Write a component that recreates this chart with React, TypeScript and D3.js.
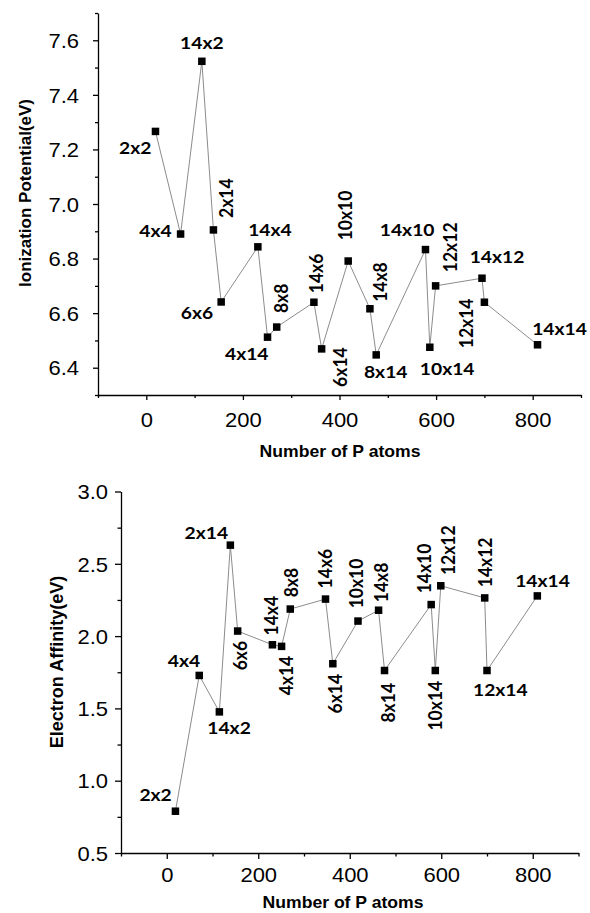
import React, { useEffect, useRef } from 'react';
import * as d3 from 'd3';

// supercell sizes, in the order the line connects them
const cells = ['2x2', '4x4', '14x2', '2x14', '6x6', '14x4', '4x14', '8x8', '14x6', '6x14',
  '10x10', '14x8', '8x14', '14x10', '10x14', '12x12', '14x12', '12x14', '14x14'];
const atoms = [19, 71, 115, 139, 155, 231, 251, 270, 347, 363, 418, 463, 476, 578, 587, 599, 695, 700, 810];
const ionization = [7.266, 6.89, 7.523, 6.905, 6.641, 6.843, 6.512, 6.549, 6.64, 6.469,
  6.791, 6.616, 6.447, 6.833, 6.475, 6.70, 6.728, 6.64, 6.484];
const affinity = [0.789, 1.728, 1.476, 2.629, 2.035, 1.94, 1.929, 2.187, 2.256, 1.809,
  2.104, 2.179, 1.762, 2.218, 1.762, 2.348, 2.264, 1.762, 2.278];

const atomTicks = [0, 200, 400, 600, 800];
const ipTicks = [6.4, 6.6, 6.8, 7.0, 7.2, 7.4, 7.6];
const eaTicks = [0.5, 1.0, 1.5, 2.0, 2.5, 3.0];

// label placement: [dx, dy, anchor] ; anchor 'up' = rotated, reading upwards
const ipLabelPos: [number, number, string][] = [
  [-4, 23, 'end'], [-9, 3, 'end'], [0, -12.7, 'middle'], [19.3, -12, 'up'], [-8, 17, 'end'],
  [12, -10.5, 'middle'], [1, 22.7, 'end'], [11, -14, 'up'], [8.7, -9, 'up'], [25, 38, 'up'],
  [4, -20.7, 'up'], [17, -7, 'up'], [9.5, 23, 'middle'], [9, -14, 'end'], [-10, 27.7, 'start'],
  [21, -13.7, 'up'], [15, -15, 'middle'], [-11, 46, 'up'], [22, -10, 'middle'],
];
const eaLabelPos: [number, number, string][] = [
  [-3.7, -10.3, 'end'], [1, -8, 'end'], [9.7, 22.6, 'middle'], [-2.3, -5.7, 'end'], [9.3, 39.3, 'up'],
  [5.3, -9.3, 'up'], [11.3, 49, 'up'], [7.3, -11.7, 'up'], [6.3, -10.7, 'up'], [9.3, 49.7, 'up'],
  [5, -12.7, 'up'], [9.3, -8, 'up'], [10.7, 52, 'up'], [0, -11.3, 'up'], [7, 60, 'up'],
  [14.3, -10.7, 'up'], [7, -10.7, 'up'], [13.3, 25, 'middle'], [5.2, -8.7, 'middle'],
];

const SX = 1.1; // the picture is a little stretched sideways

function drawPanel(svg, opt) {
  const x = d3.scaleLinear().domain([-100, 900]).range(opt.xRange);
  const y = d3.scaleLinear().domain(opt.yDomain).range(opt.yRange);
  const g = svg.append('g');
  const x0 = opt.xRange[0];
  const y0 = opt.yRange[0];

  // minor ticks
  g.append('g').attr('transform', `translate(0,${y0})`)
    .call(d3.axisBottom(x).tickValues(d3.range(-100, 901, 200)).tickSize(opt.minor).tickFormat(() => ''))
    .call(s => s.select('.domain').remove());
  g.append('g').attr('transform', `translate(${x0},0)`)
    .call(d3.axisLeft(y).tickValues(opt.yMinor).tickSize(opt.minor).tickFormat(() => ''))
    .call(s => s.select('.domain').remove());

  const xa = g.append('g').attr('transform', `translate(0,${y0})`)
    .call(d3.axisBottom(x).tickValues(atomTicks).tickSize(opt.major).tickSizeOuter(0).tickFormat(d3.format('d')));
  xa.selectAll('text').attr('y', opt.xLabelGap).attr('transform', `scale(${SX},1)`);
  const ya = g.append('g').attr('transform', `translate(${x0},0)`)
    .call(d3.axisLeft(y).tickValues(opt.yTicks).tickSize(opt.major).tickSizeOuter(0).tickFormat(d3.format('.1f')));
  ya.selectAll('text').attr('x', -opt.yLabelGap / SX).attr('dy', '0.36em').attr('transform', `scale(${SX},1)`);

  [xa, ya].forEach(a => {
    a.attr('font-family', 'Liberation Sans, Arial, sans-serif').attr('font-size', 20);
    a.selectAll('path,line').attr('stroke', '#000').attr('stroke-width', 1.3);
  });
  g.selectAll('line').attr('stroke', '#000').attr('stroke-width', 1.3);

  const pts = atoms.map((a, i) => [x(a), y(opt.values[i])]);
  g.append('path')
    .attr('d', d3.line()(pts))
    .attr('fill', 'none').attr('stroke', '#8c8c8c').attr('stroke-width', 1);
  g.selectAll('rect.m').data(pts).join('rect')
    .attr('x', d => d[0] - 3.75).attr('y', d => d[1] - 3.75)
    .attr('width', 7.5).attr('height', 7.5).attr('fill', '#000');

  const lab = g.selectAll('g.lab').data(pts).join('g')
    .attr('transform', (d, i) => `translate(${d[0] + opt.pos[i][0]},${d[1] + opt.pos[i][1]}) scale(${SX},1)`);
  lab.append('text')
    .attr('transform', (d, i) => opt.pos[i][2] === 'up' ? 'rotate(-90)' : null)
    .attr('text-anchor', (d, i) => opt.pos[i][2] === 'up' ? 'start' : opt.pos[i][2])
    .attr('font-family', 'Lato, Open Sans, sans-serif').attr('font-weight', 700).attr('font-size', 17.5)
    .text((d, i) => cells[i]);

  g.append('g').attr('transform', `translate(${opt.xTitle[0]},${opt.xTitle[1]}) scale(${SX},1)`)
    .append('text').attr('text-anchor', 'middle')
    .attr('font-family', 'Liberation Sans, Arial, sans-serif').attr('font-weight', 700).attr('font-size', 16)
    .text('Number of P atoms');
  g.append('text')
    .attr('transform', `translate(${opt.yTitle[0]},${opt.yTitle[1]}) rotate(-90)`)
    .attr('text-anchor', 'middle')
    .attr('font-family', 'Liberation Sans, Arial, sans-serif').attr('font-weight', 700).attr('font-size', opt.yTitleSize)
    .text(opt.yTitleText);
}

export default function App() {
  const ref = useRef(null);

  useEffect(() => {
    const svg = d3.select(ref.current);
    svg.selectAll('*').remove();
    drawPanel(svg, {
      xRange: [98, 581], yRange: [395, 13], yDomain: [6.3, 7.7],
      yTicks: ipTicks, yMinor: d3.range(6.3, 7.71, 0.2),
      major: 5, minor: 3, xLabelGap: 18, yLabelGap: 19,
      values: ionization, pos: ipLabelPos,
      xTitle: [340, 457], yTitle: [30.5, 193], yTitleSize: 17,
      yTitleText: 'Ionization Potential(eV)',
    });
    drawPanel(svg, {
      xRange: [121, 578.5], yRange: [853, 491.5], yDomain: [0.5, 3.0],
      yTicks: eaTicks, yMinor: d3.range(0.75, 3.0, 0.5),
      major: 6, minor: 3.5, xLabelGap: 15, yLabelGap: 13,
      values: affinity, pos: eaLabelPos,
      xTitle: [343, 908], yTitle: [63, 662], yTitleSize: 18,
      yTitleText: 'Electron Affinity(eV)',
    });
  }, []);

  return (
    <svg ref={ref} width={590} height={913}
      style={{ position: 'absolute', left: 0, top: 0, background: '#fff' }} />
  );
}
